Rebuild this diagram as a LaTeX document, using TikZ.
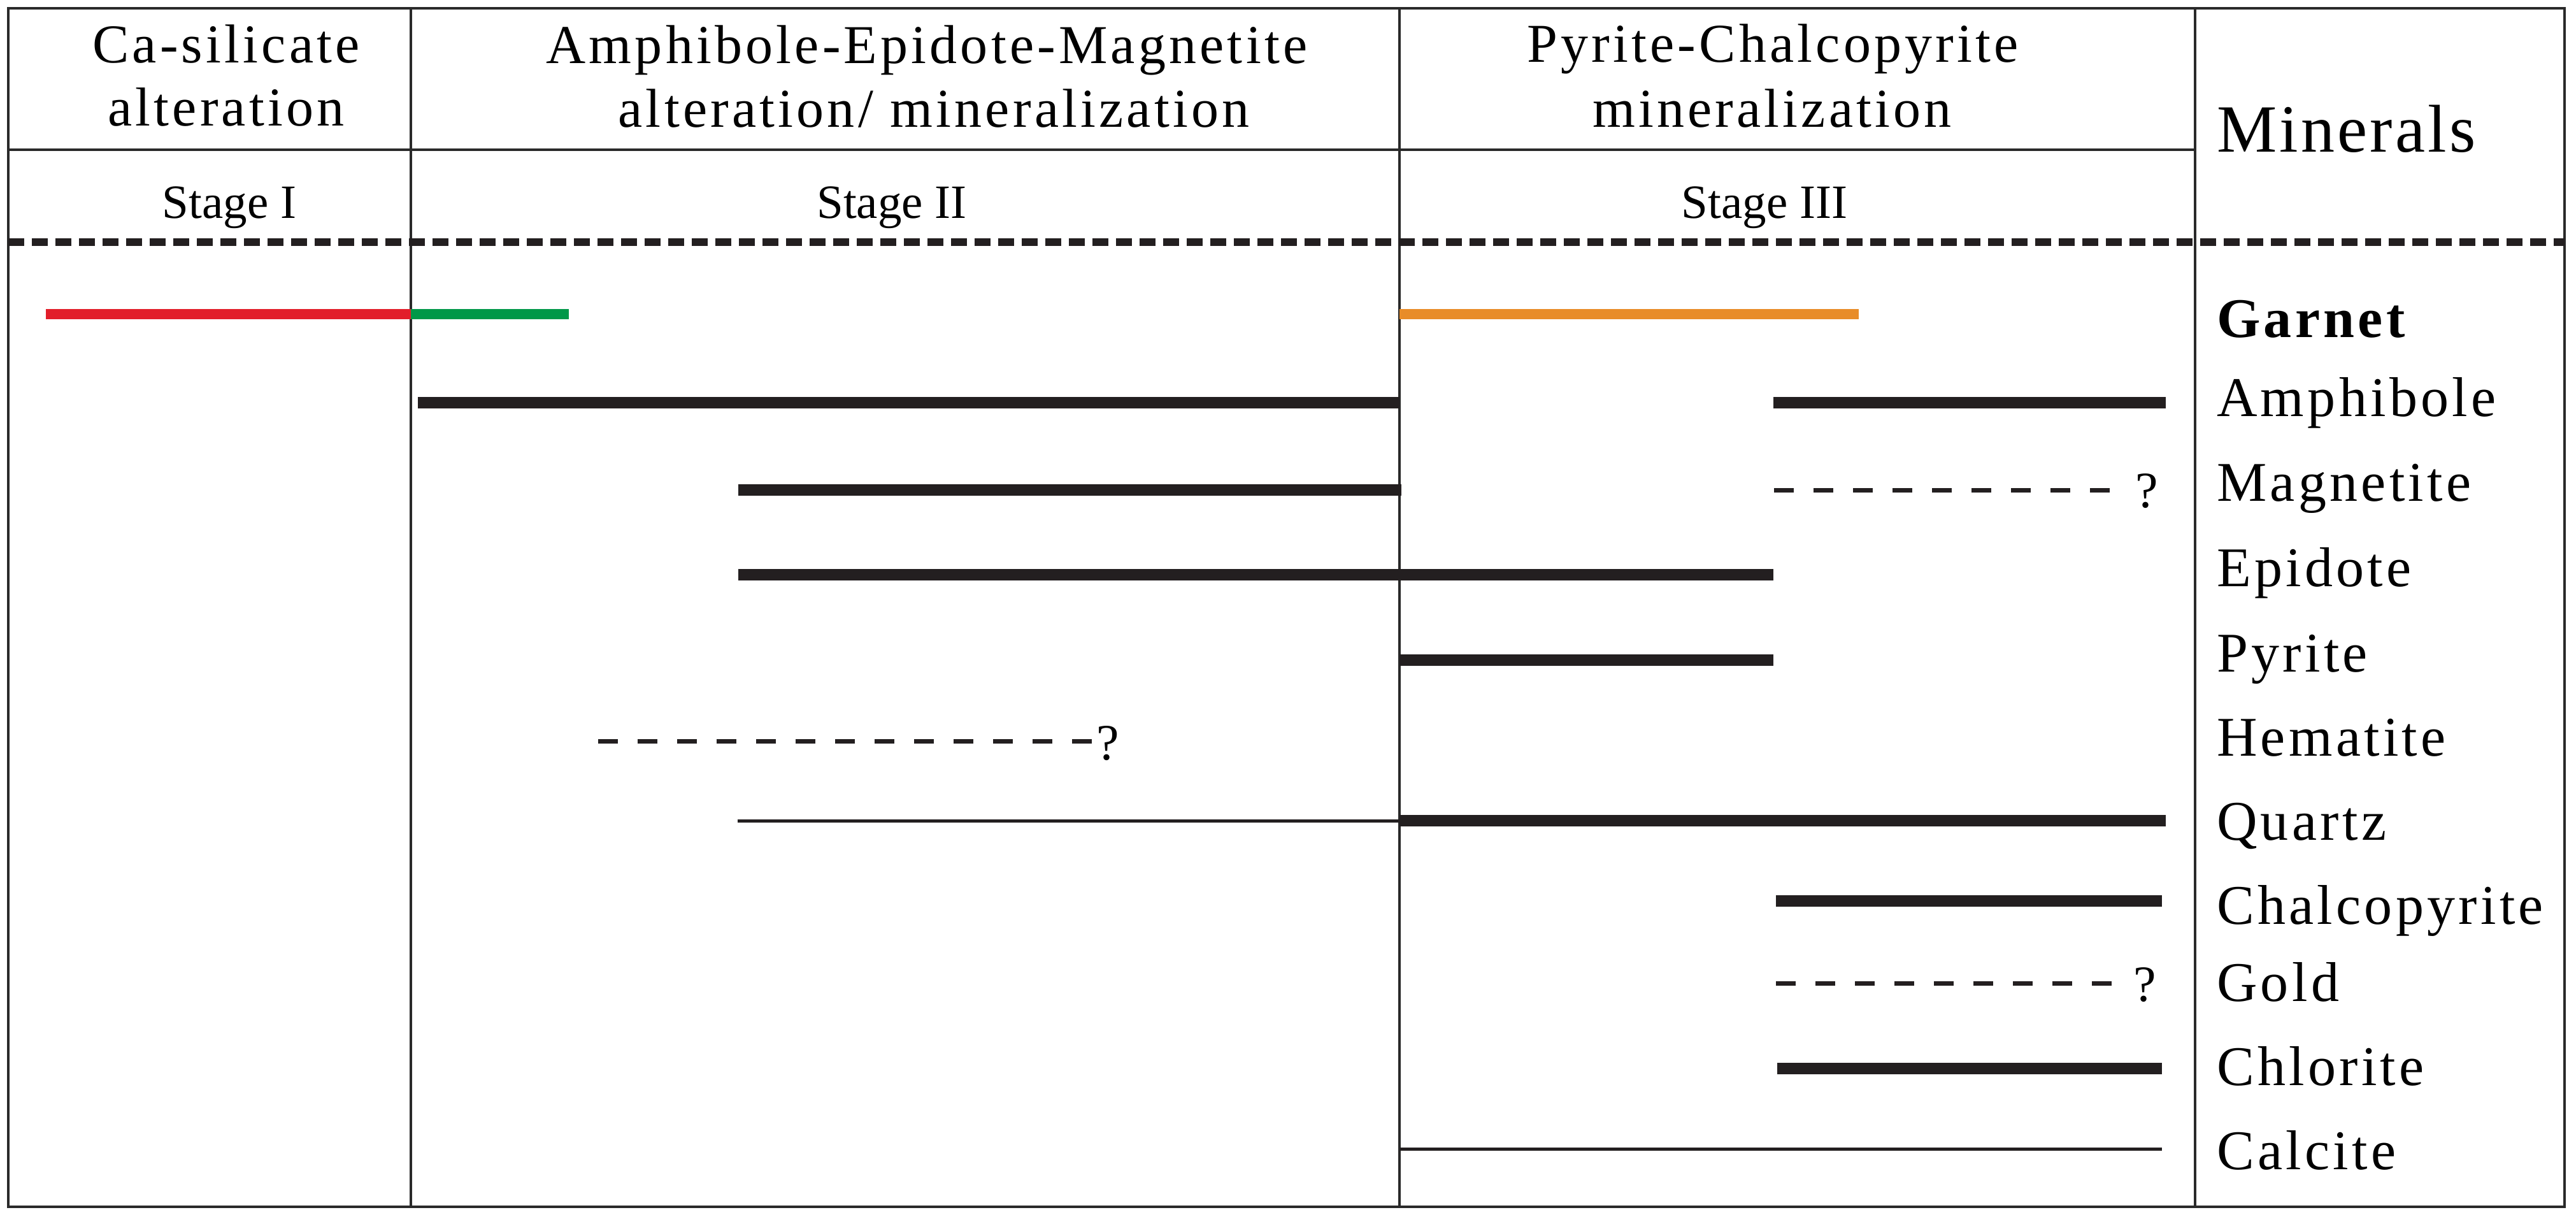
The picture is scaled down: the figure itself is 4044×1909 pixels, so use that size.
\documentclass[tikz,border=0pt]{standalone}
\usepackage{fontspec}
\setmainfont{Liberation Serif}
\newfontfamily\trk[LetterSpace=6]{Liberation Serif}
\newfontfamily\trkb[LetterSpace=4]{Liberation Serif}
\definecolor{barc}{HTML}{231F20}
\definecolor{framec}{HTML}{2A2A2A}
\definecolor{redbar}{RGB}{226,30,42}
\definecolor{greenbar}{RGB}{0,152,72}
\definecolor{orangebar}{RGB}{232,140,40}
\begin{document}
\begin{tikzpicture}[x=1pt,y=-1pt,
  frame/.style={line width=4.5pt,draw=framec},
  colline/.style={line width=3.5pt,draw=framec},
  hdrline/.style={line width=12pt,draw=barc,dash pattern=on 25pt off 12pt},
  bar/.style={line width=18pt,draw=barc},
  cbar/.style={line width=16pt},
  thinbar/.style={line width=5pt,draw=barc},
  dashbar/.style={line width=7pt,draw=barc,dash pattern=on 31pt off 31pt},
  hdr/.style={inner sep=0pt,anchor=base,font=\trk\fontsize{86}{100}\selectfont},
  stg/.style={inner sep=0pt,anchor=base,font=\fontsize{75}{90}\selectfont},
  lbl/.style={inner sep=0pt,anchor=base west,font=\trk\fontsize{88}{100}\selectfont},
  qm/.style={inner sep=0pt,anchor=base,font=\fontsize{80}{90}\selectfont}]
\useasboundingbox (0,0) rectangle (4044,1909);
% frame and grid
\draw[frame] (13,13) rectangle (4026,1894);
\draw[colline] (645,13) -- (645,1894);
\draw[colline] (2197,13) -- (2197,1894);
\draw[colline] (3446,13) -- (3446,1894);
\draw[colline] (13,235) -- (3446,235);
\draw[hdrline] (13,380) -- (4026,380);
% headers
\node[hdr] (h1a) at (355,98) {Ca-silicate};
\node[hdr] (h1b) at (355,197) {alteration};
\node[hdr] (h2a) at (1455,99) {Amphibole-Epidote-Magnetite};
\node[hdr] (h2b) at (1466,199) {alteration/ mineralization};
\node[hdr] (h3a) at (2783,97) {Pyrite-Chalcopyrite};
\node[hdr] (h3b) at (2782,199) {mineralization};
\node[inner sep=0pt,anchor=base west,font=\trkb\fontsize{106}{120}\selectfont] (mins) at (3480,238) {Minerals};
\node[stg] (s1) at (360,342) {Stage I};
\node[stg] (s2) at (1400,342) {Stage II};
\node[stg] (s3) at (2770,342) {Stage III};
% mineral labels
\node[lbl] (garnet) at (3480,529) {\textbf{Garnet}};
\node[lbl] (amph) at (3480,653) {Amphibole};
\node[lbl] (magn) at (3480,786) {Magnetite};
\node[lbl] (epid) at (3480,920) {Epidote};
\node[lbl] (pyr) at (3480,1054) {Pyrite};
\node[lbl] (hem) at (3480,1186) {Hematite};
\node[lbl] (qtz) at (3480,1318) {Quartz};
\node[lbl] (chalc) at (3480,1450) {Chalcopyrite};
\node[lbl] (gold) at (3480,1571) {Gold};
\node[lbl] (chl) at (3480,1703) {Chlorite};
\node[lbl] (cal) at (3480,1835) {Calcite};
% bars
\draw[cbar,draw=redbar] (72,493) -- (645,493);
\draw[cbar,draw=greenbar] (645,493) -- (893,493);
\draw[cbar,draw=orangebar] (2197,493) -- (2918,493);
\draw[bar] (656,632) -- (2197,632);
\draw[bar] (2784,632) -- (3400,632);
\draw[bar] (1159,769) -- (2200,769);
\draw[dashbar] (2785,769) -- (3316,769);
\node[qm] (q1) at (3370,796) {?};
\draw[bar] (1159,902) -- (2784,902);
\draw[bar] (2197,1036) -- (2784,1036);
\draw[dashbar] (939,1163) -- (1718,1163);
\node[qm] (q2) at (1739,1192) {?};
\draw[thinbar] (1158,1288) -- (2197,1288);
\draw[bar] (2197,1288) -- (3400,1288);
\draw[bar] (2788,1414) -- (3394,1414);
\draw[dashbar] (2788,1543) -- (3319,1543);
\node[qm] (q3) at (3367,1571) {?};
\draw[bar] (2790,1677) -- (3394,1677);
\draw[thinbar] (2197,1803) -- (3394,1803);
\end{tikzpicture}
\end{document}
